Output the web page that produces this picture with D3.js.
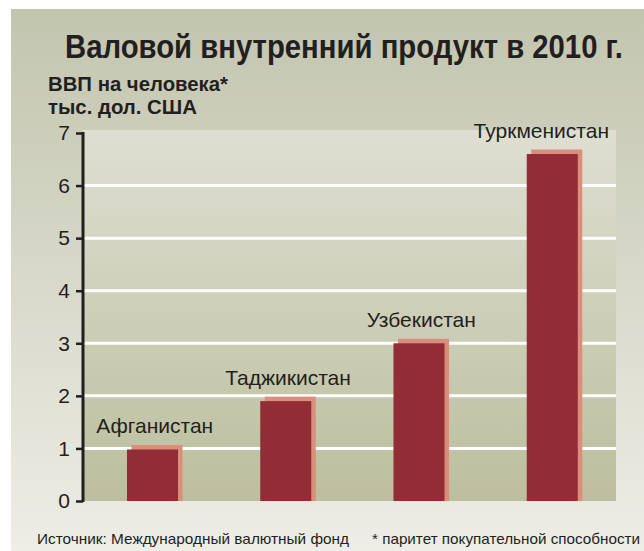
<!DOCTYPE html>
<html>
  <head>
    <meta charset="utf-8">
    <title>ВВП 2010</title>
    <script src="https://d3js.org/d3.v7.min.js"></script>
    <style>
      body { margin: 0; background: #fff; }
      text { font-family: "Liberation Sans", Arial, sans-serif; fill: #231f20; }
    </style>
  </head>

  <body>
    <script>
      var countries = ["Афганистан", "Таджикистан", "Узбекистан", "Туркменистан"];
      var gdp = [0.98, 1.9, 3.0, 6.6];
      var yTicks = [0, 1, 2, 3, 4, 5, 6, 7];

      var width = 644, height = 551;
      var plotLeft = 83, plotRight = 616, plotTop = 133, plotBottom = 501;

      var svg = d3.select("body")
        .append("svg")
          .attr("width", width)
          .attr("height", height);

      var defs = svg.append("defs");
      var bg = defs.append("linearGradient").attr("id", "bg")
          .attr("x1", 0).attr("y1", 0).attr("x2", 0).attr("y2", 1);
      bg.append("stop").attr("offset", "0%").attr("stop-color", "#c2c5ae");
      bg.append("stop").attr("offset", "100%").attr("stop-color", "#eeede6");

      var pg = defs.append("linearGradient").attr("id", "plotbg")
          .attr("x1", 0).attr("y1", 0).attr("x2", 0).attr("y2", 1);
      pg.append("stop").attr("offset", "0%").attr("stop-color", "#dedfd2");
      pg.append("stop").attr("offset", "100%").attr("stop-color", "#bcbe9e");

      svg.append("rect")
          .attr("x", 11).attr("y", 9)
          .attr("width", width - 11).attr("height", height - 9)
          .style("fill", "url(#bg)");

      var x = d3.scaleBand()
          .domain(countries)
          .range([plotLeft, plotRight])
          .paddingInner(0.617)
          .paddingOuter(0.3085)
          .align(0.535);

      var y = d3.scaleLinear()
          .domain([0, 7])
          .range([plotBottom, plotTop]);

      // plot area
      svg.append("rect")
          .attr("x", plotLeft).attr("y", plotTop - 3)
          .attr("width", plotRight - plotLeft).attr("height", plotBottom - plotTop + 3)
          .style("fill", "url(#plotbg)");

      // white gridlines
      svg.append("g")
        .selectAll("line")
        .data(yTicks.filter(d => d > 0 && d < 7))
        .enter()
        .append("line")
          .attr("x1", plotLeft)
          .attr("x2", plotRight)
          .attr("y1", d => y(d))
          .attr("y2", d => y(d))
          .style("stroke", "#fff")
          .style("stroke-width", 3);

      // bars: lighter back bar offset up-right, dark front bar
      var off = 4.5;
      var bars = svg.append("g");
      bars.selectAll(".back")
        .data(gdp)
        .enter()
        .append("rect")
          .attr("class", "back")
          .attr("x", (d, i) => x(countries[i]) + off)
          .attr("y", d => y(d) - off)
          .attr("width", x.bandwidth())
          .attr("height", d => y(0) - y(d) + off)
          .style("fill", "#d98f7c");
      bars.selectAll(".front")
        .data(gdp)
        .enter()
        .append("rect")
          .attr("class", "front")
          .attr("x", (d, i) => x(countries[i]))
          .attr("y", d => y(d))
          .attr("width", x.bandwidth())
          .attr("height", d => y(0) - y(d))
          .style("fill", "#922d36");

      // country labels
      svg.append("g")
        .selectAll("text")
        .data(gdp)
        .enter()
        .append("text")
          .attr("x", (d, i) => x(countries[i]) + (x.bandwidth() + off) / 2)
          .attr("y", d => y(d) - off - 12)
          .attr("text-anchor", "middle")
          .style("font-size", "21px")
          .text((d, i) => countries[i])
          .each(function () {
            // keep last label inside plot area
            var w = this.getComputedTextLength();
            var cx = +this.getAttribute("x");
            if (cx + w / 2 > plotRight - 7) this.setAttribute("x", plotRight - 7 - w / 2);
          });

      // y axis
      var axis = svg.append("g")
          .attr("transform", "translate(" + plotLeft + ",0)")
          .call(d3.axisLeft(y).tickValues(yTicks).tickSize(7).tickPadding(6).tickFormat(d3.format("d")));
      axis.select(".domain").remove();
      axis.selectAll(".tick line").style("stroke", "#231f20").style("stroke-width", 2.5);
      axis.selectAll(".tick text")
          .style("font-size", "21px")
          .style("font-family", "'Liberation Sans', Arial, sans-serif")
          .style("fill", "#231f20");
      axis.append("line")
          .attr("x1", 0).attr("x2", 0)
          .attr("y1", plotTop - 1).attr("y2", plotBottom + 1)
          .style("stroke", "#231f20")
          .style("stroke-width", 3);

      // title (condensed look: smaller font stretched vertically) and units
      svg.append("text")
          .attr("transform", "translate(65,58) scale(1,1.2)")
          .attr("textLength", 558)
          .attr("lengthAdjust", "spacingAndGlyphs")
          .style("font-size", "27.5px")
          .style("font-weight", "bold")
          .text("Валовой внутренний продукт в 2010 г.");
      svg.append("text")
          .attr("x", 48).attr("y", 91)
          .attr("textLength", 180)
          .attr("lengthAdjust", "spacingAndGlyphs")
          .style("font-size", "20px")
          .style("font-weight", "bold")
          .text("ВВП на человека*");
      svg.append("text")
          .attr("x", 48).attr("y", 114)
          .attr("textLength", 149)
          .attr("lengthAdjust", "spacingAndGlyphs")
          .style("font-size", "20px")
          .style("font-weight", "bold")
          .text("тыс. дол. США");

      // footer
      svg.append("text")
          .attr("x", 37).attr("y", 544)
          .attr("textLength", 312)
          .attr("lengthAdjust", "spacingAndGlyphs")
          .style("font-size", "15px")
          .text("Источник: Международный валютный фонд");
      svg.append("text")
          .attr("x", 372).attr("y", 544)
          .attr("textLength", 268)
          .attr("lengthAdjust", "spacingAndGlyphs")
          .style("font-size", "15px")
          .text("* паритет покупательной способности");
    </script>
  </body>
</html>
